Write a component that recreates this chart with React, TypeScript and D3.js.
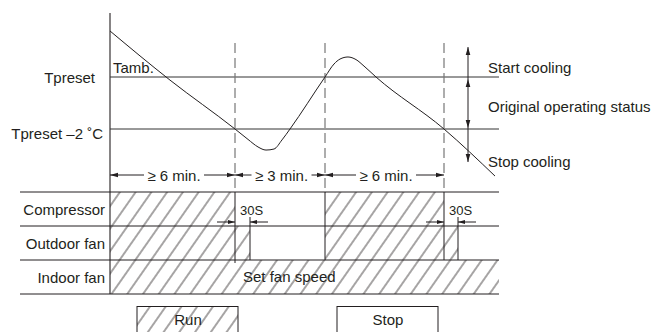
import React from 'react';
import * as d3 from 'd3';

const W = 654;
const H = 332;

// Time axis in arbitrary units, temperature in °C relative to Tpreset
const tambTime = [0, 6.0, 12.5, 13.8, 14.8, 15.6, 16.4, 17.2, 18.0, 21.5, 22.4, 23.0, 23.8, 24.6, 25.4, 26.6, 33.4, 38.5];
const tambTemp = [1.77, -0.12, -2.0, -2.4, -2.69, -2.81, -2.77, -2.42, -2.0, 0, 0.5, 0.69, 0.77, 0.67, 0.42, 0, -2.0, -3.81];

const thresholdTemps = [0, -2];
const thresholdLabels = ['Tpreset', 'Tpreset –2 ˚C'];

const compressorEvents = [12.5, 21.5, 33.4];
const intervalStarts = [0, 12.5, 21.5];
const intervalEnds = [12.5, 21.5, 33.4];
const intervalLabels = ['≥ 6 min.', '≥ 3 min.', '≥ 6 min.'];

const rows = ['Compressor', 'Outdoor fan', 'Indoor fan'];
const compressorRuns = [[0, 12.5], [21.5, 33.4]];
const outdoorFanRuns = [[0, 14.0], [21.5, 34.8]];
const indoorFanRuns = [[0, 38.9]];
const rowRuns = [compressorRuns, outdoorFanRuns, indoorFanRuns];

const delayStarts = [12.5, 33.4];
const delayEnds = [14.0, 34.8];
const delayLabel = '30S';

const statusTime = 35.8;
const statusTop = 1.15;
const statusBottom = -3.27;
const statusLabels = ['Start cooling', 'Original operating status', 'Stop cooling'];

const legendLabels = ['Run', 'Stop'];
const legendHatched = [true, false];

const INK = '#231f20';
const FONT = '"Liberation Sans", Arial, Helvetica, sans-serif';

function arrowHead(x: number, y: number, dir: 'left' | 'right' | 'up' | 'down', len = 8, hw = 2.3) {
  switch (dir) {
    case 'left':
      return `M${x},${y}L${x + len},${y - hw}L${x + len},${y + hw}Z`;
    case 'right':
      return `M${x},${y}L${x - len},${y - hw}L${x - len},${y + hw}Z`;
    case 'up':
      return `M${x},${y}L${x - hw},${y + len}L${x + hw},${y + len}Z`;
    default:
      return `M${x},${y}L${x - hw},${y - len}L${x + hw},${y - len}Z`;
  }
}

export default function App() {
  const x = d3.scaleLinear().domain([0, 38.9]).range([110, 499]);
  const y = d3.scaleLinear().domain([-2, 0]).range([129, 77]);
  const rowY = d3.scaleBand<string>().domain(rows).range([192, 294]).paddingInner(0).paddingOuter(0);

  const tamb = tambTime.map((t, i) => [t, tambTemp[i]] as [number, number]);
  const line = d3
    .line<[number, number]>()
    .x((d) => x(d[0]))
    .y((d) => y(d[1]))
    .curve(d3.curveMonotoneX);

  const axisTop = 13;
  const dashTop = 43;
  const dimY = 175;
  const lowerTop = rowY(rows[0])!;
  const lowerBottom = lowerTop + rowY.step() * rows.length;
  const leftEdge = 20;
  const rightEdge = x(38.9);
  const delayArrowY = 222;

  const sx = x(statusTime);

  return (
    <svg
      width={W}
      height={H}
      viewBox={`0 0 ${W} ${H}`}
      style={{ position: 'absolute', left: 0, top: 0, background: '#fff' }}
      fontFamily={FONT}
    >
      <defs>
        <pattern id="hatch" patternUnits="userSpaceOnUse" width={12.9} height={12.9} patternTransform="rotate(35)">
          <line x1={2} y1={-1} x2={2} y2={14} stroke="#3a3637" strokeWidth={0.9} />
        </pattern>
      </defs>
      <rect x={0} y={0} width={W} height={H} fill="#fff" />

      {/* hatched run areas */}
      {rows.map((r, ri) =>
        rowRuns[ri].map((run, k) => (
          <rect
            key={`${r}-${k}`}
            x={x(run[0])}
            y={rowY(r)!}
            width={x(run[1]) - x(run[0])}
            height={rowY.step()}
            fill="url(#hatch)"
          />
        ))
      )}

      {/* row separator lines */}
      {[...rows.map((r) => rowY(r)!), lowerBottom].map((yy, i) => (
        <line key={`rl${i}`} x1={leftEdge} x2={rightEdge} y1={yy} y2={yy} stroke={INK} strokeWidth={1} />
      ))}

      {/* row labels */}
      {rows.map((r) => (
        <text
          key={`lab-${r}`}
          x={105}
          y={rowY(r)! + rowY.step() / 2 + 5.5}
          textAnchor="end"
          fontSize={15}
          fill={INK}
        >
          {r}
        </text>
      ))}

      {/* vertical axis */}
      <line x1={x(0)} x2={x(0)} y1={axisTop} y2={lowerBottom} stroke={INK} strokeWidth={1.1} />

      {/* threshold lines */}
      {thresholdTemps.map((t, i) => (
        <line key={`th${i}`} x1={x(0)} x2={rightEdge} y1={y(t)} y2={y(t)} stroke="#333" strokeWidth={1} />
      ))}
      <text x={95} y={y(0) + 6} textAnchor="end" fontSize={15} fill={INK}>
        {thresholdLabels[0]}
      </text>
      <text x={103} y={y(-2) + 10} textAnchor="end" fontSize={15} fill={INK}>
        {thresholdLabels[1]}
      </text>

      {/* dashed event lines */}
      {compressorEvents.map((t, i) => (
        <line
          key={`dash${i}`}
          x1={x(t)}
          x2={x(t)}
          y1={dashTop}
          y2={lowerTop}
          stroke="#777"
          strokeWidth={1.2}
          strokeDasharray="10,5"
        />
      ))}
      {/* solid event lines in lower part */}
      {compressorEvents.map((t, i) => (
        <line
          key={`sol${i}`}
          x1={x(t)}
          x2={x(t)}
          y1={lowerTop}
          y2={i === 0 ? lowerTop + rowY.step() * 2 + 3 : lowerTop + rowY.step() * 2}
          stroke={INK}
          strokeWidth={1}
        />
      ))}

      {/* Tamb curve */}
      <path d={line(tamb) || ''} fill="none" stroke={INK} strokeWidth={1} />
      <text x={113} y={73} fontSize={15} fill={INK}>
        Tamb.
      </text>

      {/* status arrow */}
      <line x1={sx} x2={sx} y1={y(statusTop)} y2={y(statusBottom)} stroke={INK} strokeWidth={1} />
      <path d={arrowHead(sx, y(statusTop), 'up')} fill={INK} />
      <path d={arrowHead(sx, y(0) + 2, 'up')} fill={INK} />
      <path d={arrowHead(sx, y(-2) - 1, 'down')} fill={INK} />
      <path d={arrowHead(sx, y(statusBottom), 'down')} fill={INK} />
      <text x={488} y={y(0) - 4} fontSize={15} fill={INK}>
        {statusLabels[0]}
      </text>
      <text x={488} y={(y(0) + y(-2)) / 2 + 9} fontSize={15} fill={INK}>
        {statusLabels[1]}
      </text>
      <text x={488} y={y(-2) + 38} fontSize={15} fill={INK}>
        {statusLabels[2]}
      </text>

      {/* interval dimensions */}
      {intervalLabels.map((lab, i) => {
        const a = x(intervalStarts[i]);
        const b = x(intervalEnds[i]);
        const m = (a + b) / 2 + 1.5;
        const hw = 30;
        return (
          <g key={`dim${i}`}>
            <line x1={a} x2={m - hw} y1={dimY} y2={dimY} stroke={INK} strokeWidth={1} />
            <line x1={m + hw} x2={b} y1={dimY} y2={dimY} stroke={INK} strokeWidth={1} />
            <path d={arrowHead(a, dimY, 'left')} fill={INK} />
            <path d={arrowHead(b, dimY, 'right')} fill={INK} />
            <text x={m} y={dimY + 5.5} textAnchor="middle" fontSize={15} fill={INK}>
              {lab}
            </text>
          </g>
        );
      })}

      {/* 30S delay markers */}
      {delayStarts.map((t, i) => {
        const a = x(t);
        const b = x(delayEnds[i]);
        return (
          <g key={`delay${i}`}>
            <line x1={b} x2={b} y1={217} y2={lowerTop + rowY.step() * 2} stroke={INK} strokeWidth={1} />
            <line x1={a - 18} x2={a} y1={delayArrowY} y2={delayArrowY} stroke={INK} strokeWidth={1} />
            <path d={arrowHead(a, delayArrowY, 'right', 7, 2)} fill={INK} />
            <line x1={b} x2={b + 18} y1={delayArrowY} y2={delayArrowY} stroke={INK} strokeWidth={1} />
            <path d={arrowHead(b, delayArrowY, 'left', 7, 2)} fill={INK} />
            <text x={a + 5} y={215} fontSize={13} fill={INK}>
              {delayLabel}
            </text>
          </g>
        );
      })}

      <text x={243} y={282} fontSize={15} fill={INK}>
        Set fan speed
      </text>

      {/* legend */}
      {legendLabels.map((lab, i) => {
        const bx = 137 + i * 200;
        return (
          <g key={`leg${i}`}>
            <rect
              x={bx}
              y={306.5}
              width={101}
              height={40}
              fill={legendHatched[i] ? 'url(#hatch)' : '#fff'}
              stroke={INK}
              strokeWidth={1}
            />
            <text x={bx + 51} y={325} textAnchor="middle" fontSize={15} fill={INK}>
              {lab}
            </text>
          </g>
        );
      })}
    </svg>
  );
}
